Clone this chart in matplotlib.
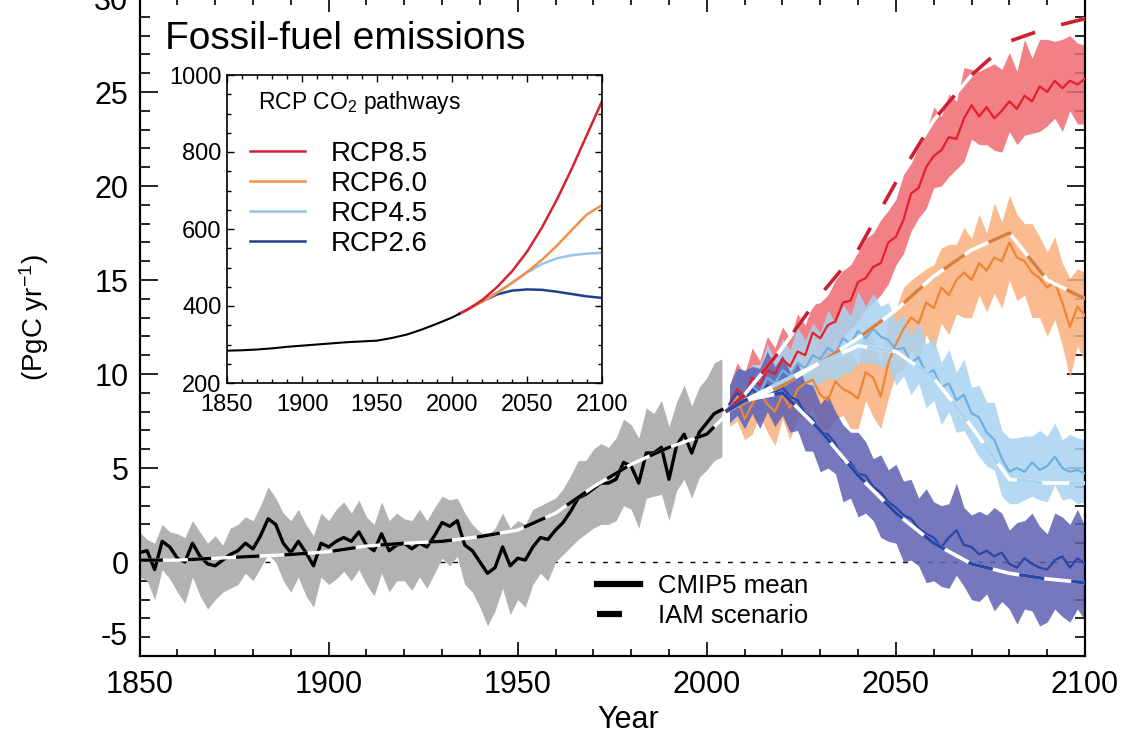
import numpy as np
import matplotlib.pyplot as plt
from matplotlib.lines import Line2D
from matplotlib.ticker import MultipleLocator

plt.rcParams['font.family'] = ['Liberation Sans', 'DejaVu Sans']
plt.rcParams['mathtext.default'] = 'regular'

# ---- historical CMIP5 fossil-fuel emissions (PgC/yr), every 2 years ----
hist_years = np.arange(1850, 2005, 2)
hist_mean = [0.5, 0.6, -0.4, 1.1, 0.8, 0.2, 0.0, 1.0, 0.3, -0.1,
             -0.2, 0.1, 0.4, 0.6, 1.0, 0.7, 1.4, 2.3, 2.0, 1.0,
             0.5, 1.1, 0.5, -0.2, 1.0, 0.8, 1.1, 1.3, 1.1, 1.6,
             0.9, 0.6, 1.5, 0.6, 0.9, 1.0, 0.7, 1.0, 0.8, 1.4,
             2.1, 1.9, 2.2, 0.9, 0.6, 0.0, -0.6, -0.3, 0.8, -0.2,
             0.2, 0.1, 0.8, 1.3, 1.2, 1.7, 2.1, 2.7, 3.4, 3.6,
             3.9, 4.2, 4.2, 4.4, 5.3, 5.1, 4.2, 5.8, 5.8, 6.1,
             4.4, 6.2, 6.8, 5.8, 6.9, 7.4, 7.9, 8.1]
hist_hi = [1.6, 1.2, 1.0, 2.0, 1.6, 1.5, 1.3, 2.2, 1.6, 1.0,
           1.4, 0.9, 1.8, 2.0, 2.4, 2.2, 3.0, 4.0, 3.4, 2.6,
           2.2, 2.8, 2.0, 1.4, 2.6, 2.2, 2.8, 3.2, 2.6, 3.3,
           2.4, 2.0, 3.2, 2.2, 2.6, 2.3, 2.2, 2.8, 2.2, 2.9,
           3.5, 3.3, 3.4, 2.6, 2.0, 1.6, 1.4, 1.8, 2.6, 1.8,
           2.2, 2.0, 2.8, 3.0, 3.2, 3.4, 3.9, 4.6, 5.4, 5.4,
           6.0, 6.3, 6.1, 6.6, 7.6, 7.3, 6.6, 8.2, 7.9, 8.6,
           7.2, 8.5, 9.4, 8.3, 9.3, 9.8, 10.6, 10.8]
hist_lo = [-0.8, -1.0, -2.0, -0.4, -0.9, -1.6, -2.2, -0.8, -1.8, -2.5,
           -2.0, -1.6, -1.4, -1.2, -0.6, -1.0, -0.3, 0.4, 0.0, -1.0,
           -1.6, -0.8, -1.8, -2.4, -0.8, -1.2, -0.9, -0.5, -1.0, -0.4,
           -1.2, -1.8, -0.6, -1.6, -1.0, -1.0, -1.5, -0.8, -1.4, -0.6,
           0.2, -0.2, 0.3, -1.2, -1.6, -2.4, -3.4, -2.6, -1.4, -2.8,
           -2.0, -2.4, -1.2, -0.6, -1.0, 0.0, 0.4, 0.8, 1.2, 1.5,
           1.8, 2.0, 2.0, 2.2, 3.0, 2.8, 1.8, 3.4, 3.5, 3.6,
           2.2, 3.8, 4.4, 3.4, 4.5, 4.9, 5.4, 5.6]

# historical emission estimate
hist_iam_years = [1850, 1860, 1870, 1880, 1890, 1900, 1910, 1920, 1930,
                  1940, 1950, 1960, 1970, 1980, 1990, 2000, 2005]
hist_iam = [0.1, 0.1, 0.2, 0.3, 0.4, 0.55, 0.85, 1.0, 1.1,
            1.35, 1.7, 2.6, 4.0, 5.2, 6.1, 6.8, 7.8]

# ---- CMIP5 compatible emissions for the RCPs, every 2 years ----
fut_years = np.arange(2006, 2101, 2)
rcp85_mean = [8.4, 9.2, 8.8, 9.8, 9.4, 10.2, 10.0, 10.8,
              10.4, 11.2, 11.0, 12.2, 11.9, 12.6, 12.8, 13.8,
              13.9, 14.9, 15.1, 15.7, 15.9, 17.0, 17.3, 18.2,
              19.6, 19.9, 21.0, 21.6, 21.9, 22.6, 22.5, 23.6,
              24.3, 23.7, 24.2, 23.6, 24.0, 24.5, 24.1, 24.8,
              24.5, 25.3, 25.0, 25.6, 25.2, 25.6, 25.4, 25.7]
rcp85_up = [1.0, 1.4, 1.2, 1.6, 1.3, 1.8, 1.4, 1.7,
            1.5, 2.0, 1.6, 1.5, 1.9, 1.6, 2.2, 1.7,
            1.9, 1.6, 2.1, 1.8, 2.3, 1.7, 2.0, 2.4,
            1.6, 2.2, 1.9, 2.6, 1.8, 2.3, 2.0, 2.7,
            1.9, 2.4, 2.1, 2.9, 2.2, 2.6, 2.0, 3.0,
            2.3, 2.5, 2.8, 2.1, 2.6, 2.4, 2.2, 1.8]
rcp85_dn = [1.0, 1.2, 1.5, 1.1, 1.6, 1.3, 1.7, 1.2,
            1.8, 1.4, 1.9, 1.5, 1.6, 2.0, 1.4, 1.8,
            1.5, 2.1, 1.6, 1.9, 1.7, 2.2, 1.5, 1.8,
            2.0, 1.6, 2.2, 1.7, 1.9, 2.1, 1.6, 2.3,
            1.8, 1.5, 2.0, 1.7, 2.2, 1.6, 1.9, 2.1,
            1.7, 2.4, 1.8, 2.0, 2.3, 1.6, 2.1, 2.4]

rcp60_mean = [8.2, 8.8, 7.6, 8.4, 9.0, 8.4, 8.0, 8.9,
              8.2, 9.2, 9.5, 9.7, 8.9, 8.6, 9.6, 9.2,
              9.0, 8.7, 10.1, 9.8, 8.8, 10.6, 11.6, 12.4,
              13.0, 12.7, 13.8, 13.5, 14.6, 14.2, 15.0, 15.4,
              15.0, 15.9, 15.5, 16.2, 16.0, 17.0, 16.2, 16.0,
              15.4, 15.1, 14.6, 14.9, 13.8, 12.5, 13.6, 13.1]
rcp60_up = [1.0, 1.4, 1.8, 1.3, 1.6, 2.0, 1.5, 1.8,
            1.4, 2.1, 1.7, 2.3, 1.6, 1.9, 2.5, 1.7,
            2.2, 1.8, 2.6, 2.0, 1.7, 2.4, 1.9, 2.2,
            2.0, 2.6, 1.8, 2.3, 2.1, 2.7, 1.9, 2.4,
            2.2, 2.6, 2.0, 2.9, 2.1, 2.5, 2.3, 2.0,
            2.6, 2.2, 1.9, 2.4, 2.1, 2.6, 2.0, 2.3]
rcp60_dn = [1.0, 1.3, 1.1, 1.6, 1.2, 1.5, 1.8, 1.3,
            1.7, 1.4, 1.9, 1.5, 1.8, 1.6, 2.0, 1.4,
            1.9, 1.6, 1.5, 2.1, 1.7, 1.9, 1.6, 2.2,
            1.8, 2.0, 1.7, 2.3, 1.9, 2.1, 1.8, 2.4,
            2.0, 1.7, 2.2, 1.9, 2.5, 2.0, 2.3, 1.8,
            2.4, 2.1, 2.6, 2.0, 2.3, 2.7, 2.1, 2.5]

rcp45_mean = [8.3, 9.0, 8.5, 9.3, 9.0, 9.8, 9.5, 10.2,
              9.9, 10.6, 10.3, 11.0, 10.8, 11.4, 11.1, 11.9,
              11.6, 12.3, 11.9, 12.4, 12.0, 11.8, 11.3, 11.4,
              10.6, 10.9, 10.0, 10.2, 9.3, 9.5, 8.6, 8.9,
              7.9, 7.7, 6.9, 6.5, 5.5, 4.8, 5.0, 4.8,
              5.3, 4.9, 5.1, 5.6, 5.0, 4.8, 4.9, 4.7]
rcp45_up = [1.0, 1.3, 1.6, 1.2, 1.5, 1.8, 1.3, 1.7,
            1.4, 1.9, 1.5, 1.7, 1.4, 2.0, 1.6, 1.8,
            1.5, 2.1, 1.7, 1.9, 1.6, 2.0, 1.5, 1.8,
            1.4, 1.9, 1.6, 1.7, 1.3, 1.8, 1.5, 1.9,
            1.4, 1.7, 1.6, 2.0, 1.5, 1.8, 1.6, 1.9,
            1.4, 2.1, 1.6, 1.8, 1.5, 2.0, 1.7, 1.8]
rcp45_dn = [1.0, 1.2, 1.4, 1.1, 1.5, 1.3, 1.6, 1.2,
            1.7, 1.4, 1.5, 1.8, 1.3, 1.6, 1.4, 1.9,
            1.5, 1.7, 1.3, 1.8, 1.6, 1.4, 1.9, 1.5,
            1.7, 1.4, 1.8, 1.6, 2.0, 1.5, 1.7, 1.9,
            1.6, 2.1, 1.8, 1.6, 2.0, 1.7, 1.9, 1.5,
            1.8, 1.6, 1.9, 1.5, 1.7, 1.4, 1.8, 1.5]

rcp26_mean = [8.4, 9.0, 8.6, 9.2, 8.8, 9.4, 9.0, 9.3,
              8.8, 8.6, 7.9, 7.6, 6.9, 6.8, 6.3, 5.4,
              5.3, 4.7, 4.6, 4.0, 3.7, 3.2, 2.9, 2.5,
              2.3, 1.8, 1.5, 1.3, 0.8, 1.3, 1.7, 0.9,
              0.8, 0.4, 0.6, 0.3, 0.5, -0.1, -0.3, 0.2,
              -0.1, -0.3, -0.4, 0.1, 0.3, -0.3, 0.2, -0.1]
rcp26_up = [1.0, 1.3, 1.6, 1.2, 1.5, 1.8, 1.4, 1.7,
            1.3, 2.0, 1.6, 1.8, 1.5, 2.1, 1.7, 1.9,
            1.6, 2.2, 1.8, 1.5, 2.0, 1.7, 2.3, 1.8,
            2.1, 1.6, 2.4, 1.9, 2.2, 1.8, 2.5, 2.0,
            1.7, 2.3, 1.9, 2.6, 2.1, 1.8, 2.4, 2.0,
            2.7, 2.2, 1.9, 2.5, 2.1, 2.3, 2.6, 2.0]
rcp26_dn = [1.0, 1.2, 1.5, 1.3, 1.7, 1.4, 1.8, 1.5,
            1.9, 1.6, 2.0, 1.7, 2.1, 1.8, 1.6, 2.2,
            1.9, 2.3, 2.0, 1.8, 2.4, 2.1, 1.9, 2.5,
            2.2, 2.0, 2.6, 2.3, 2.1, 2.7, 2.4, 2.2,
            2.8, 2.5, 2.3, 2.9, 2.6, 2.4, 3.0, 2.7,
            2.5, 3.1, 2.8, 2.6, 3.2, 2.9, 2.7, 3.0]

# IAM scenario emissions
iam_years = [2005, 2010, 2020, 2030, 2040, 2050, 2060, 2070, 2080, 2090, 2100]
rcp85_iam = [8.0, 8.9, 11.4, 14.2, 16.6, 20.2, 23.5, 25.9, 27.7, 28.4, 28.9]
rcp60_iam = [8.0, 8.5, 9.4, 10.6, 11.9, 13.4, 15.2, 16.6, 17.5, 15.0, 14.0]
rcp45_iam = [8.0, 8.6, 9.6, 10.6, 11.5, 11.2, 9.8, 7.2, 4.4, 4.2, 4.2]
rcp26_iam = [8.0, 8.6, 9.0, 7.0, 4.6, 2.6, 1.0, -0.1, -0.6, -0.9, -1.1]

# ---- atmospheric CO2 (ppm) for the inset ----
co2_hist_years = [1850, 1860, 1870, 1880, 1890, 1900, 1910, 1920, 1930,
                  1940, 1950, 1960, 1970, 1980, 1990, 2000, 2005]
co2_hist = [284, 285, 287, 290, 294, 297, 300, 303, 306,
            308, 310, 317, 326, 339, 354, 370, 380]
co2_years = [2005, 2010, 2020, 2030, 2040, 2050, 2060, 2070, 2080, 2090, 2100]
co2_rcp85 = [380, 390, 415, 449, 490, 541, 604, 677, 758, 845, 932]
co2_rcp60 = [380, 390, 411, 434, 460, 488, 520, 557, 598, 638, 662]
co2_rcp45 = [380, 390, 412, 435, 460, 487, 509, 524, 532, 536, 538]
co2_rcp26 = [380, 390, 412, 430, 440, 443, 442, 437, 431, 425, 421]

scen_labels = ['RCP8.5', 'RCP6.0', 'RCP4.5', 'RCP2.6']
line_cols = ['#e3202c', '#f08434', '#6eaee2', '#2a46a6']
band_cols = ['#ef6b72', '#f8b07c', '#a9d3f2', '#5e5fb2']
iam_cols = ['#cc2030', '#d9803e', '#a9d3f2', '#2a46a6']
inset_cols = ['#d42434', '#f0914a', '#98c4ea', '#223e92']

fig = plt.figure(figsize=(11.39, 7.38), dpi=100)
ax = fig.add_axes([0.1225, 0.1111, 0.8301, 0.8916])


def iam_line(axis, x, y, color, lw):
    # white underlay so the gaps of the dashes show up inside the bands
    axis.plot(x, y, color='white', lw=lw, solid_capstyle='butt', zorder=6)
    axis.plot(x, y, color=color, lw=lw, dashes=(7, 7.5),
              dash_capstyle='butt', zorder=7)


ax.axhline(0, color='k', lw=1.0, dashes=(3.5, 5.5), zorder=1)

# historical period
ax.fill_between(hist_years, hist_lo, hist_hi, color='#b2b2b2', lw=0, zorder=2)
ax.plot(hist_years, hist_mean, color='k', lw=2.4, zorder=5)
iam_line(ax, hist_iam_years, hist_iam, 'k', 2.4)

# scenarios
means = [rcp85_mean, rcp60_mean, rcp45_mean, rcp26_mean]
ups = [rcp85_up, rcp60_up, rcp45_up, rcp26_up]
dns = [rcp85_dn, rcp60_dn, rcp45_dn, rcp26_dn]
iams = [rcp85_iam, rcp60_iam, rcp45_iam, rcp26_iam]
for i in range(4):
    m = np.array(means[i])
    ax.fill_between(fut_years, m - np.array(dns[i]), m + np.array(ups[i]),
                    color=band_cols[i], alpha=0.85, lw=0, zorder=2 + 0.1 * i)
for i in range(4):
    ax.plot(fut_years, means[i], color=line_cols[i], lw=1.6, zorder=5)
for i in range(4):
    iam_line(ax, iam_years, iams[i], iam_cols[i], 2.6)

ax.set_xlim(1850, 2100)
ax.set_ylim(-5, 30)
ax.xaxis.set_major_locator(MultipleLocator(50))
ax.xaxis.set_minor_locator(MultipleLocator(10))
ax.set_yticks([0, 5, 10, 15, 20, 25, 30])
ax.yaxis.set_minor_locator(MultipleLocator(1))
ax.tick_params(which='both', direction='in', top=True, right=True,
               labelsize=22, width=1.2)
ax.tick_params(axis='y', which='major', length=13, pad=8)
ax.tick_params(axis='y', which='minor', length=7)
ax.tick_params(axis='x', which='major', length=10, pad=10)
ax.tick_params(axis='x', which='minor', length=5)
ax.text(-0.012, -4, '-5', transform=ax.get_yaxis_transform(),
        ha='right', va='center', fontsize=22)
for s in ax.spines.values():
    s.set_linewidth(1.6)

ax.set_xlabel('Year', fontsize=22, labelpad=2)
ax.xaxis.set_label_coords(0.517, -0.075)
fig.text(0.030, 0.57, '(PgC yr$^{-1}$)', rotation=90, fontsize=20,
         ha='center', va='center')
ax.text(0.027, 0.965, 'Fossil-fuel emissions', transform=ax.transAxes,
        fontsize=28, ha='left', va='top')

leg_handles = [Line2D([], [], color='k', lw=4.5),
               Line2D([], [], color='k', lw=4.5, dashes=(4, 4))]
ax.legend(leg_handles, ['CMIP5 mean', 'IAM scenario'], loc='upper left',
          bbox_to_anchor=(0.484, 0.124), frameon=False, fontsize=18.5,
          handlelength=1.65, handletextpad=0.7, labelspacing=0.2,
          borderpad=0, borderaxespad=0)

# inset: RCP CO2 concentration pathways
ins = fig.add_axes([227 / 1139, 1 - 383 / 738, 375 / 1139, 308 / 738])
ins.plot(co2_hist_years, co2_hist, color='k', lw=1.5, zorder=3)
co2 = [co2_rcp85, co2_rcp60, co2_rcp45, co2_rcp26]
handles = []
for i in range(4):
    h, = ins.plot(co2_years, co2[i], color=inset_cols[i], lw=1.8,
                  zorder=2 + 0.1 * (3 - i))
    handles.append(h)
ins.set_xlim(1850, 2100)
ins.set_ylim(200, 1000)
ins.xaxis.set_major_locator(MultipleLocator(50))
ins.xaxis.set_minor_locator(MultipleLocator(10))
ins.yaxis.set_major_locator(MultipleLocator(200))
ins.yaxis.set_minor_locator(MultipleLocator(50))
ins.tick_params(which='both', direction='in', top=True, right=True,
                labelsize=17, width=1.0)
ins.tick_params(which='major', length=5)
ins.tick_params(which='minor', length=3)
ins.tick_params(axis='y', pad=4)
ins.tick_params(axis='x', pad=8)
for s in ins.spines.values():
    s.set_linewidth(1.2)
ins.text(0.083, 0.91, 'RCP CO$_2$ pathways', transform=ins.transAxes,
         fontsize=16.5, ha='left', va='center')
ins.legend(handles, scen_labels, loc='upper left', bbox_to_anchor=(0.061, 0.787),
           frameon=False, fontsize=20, handlelength=2.0, handletextpad=0.9,
           labelspacing=0.15, borderpad=0, borderaxespad=0)

fig.savefig('out.png', dpi=100)
